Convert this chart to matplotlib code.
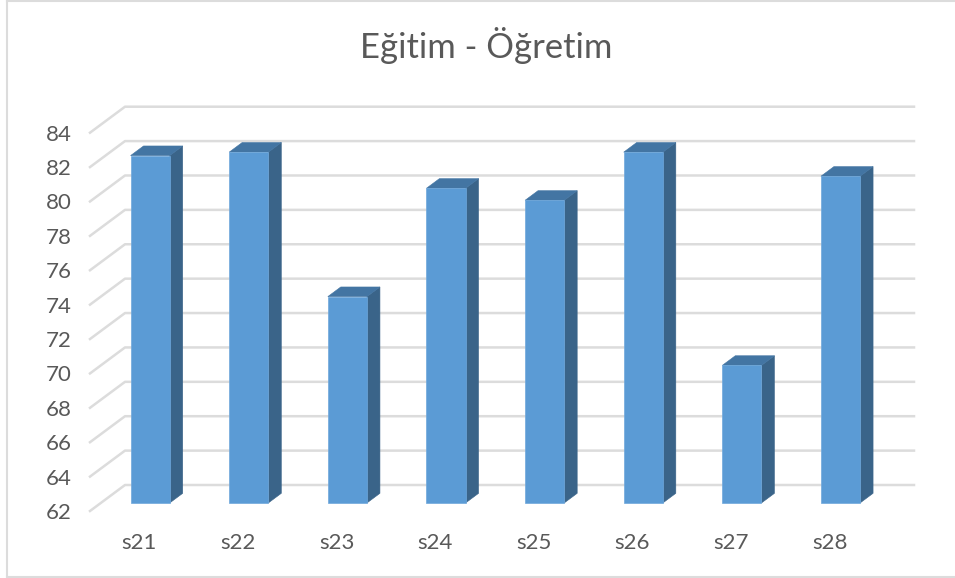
import matplotlib
matplotlib.use("Agg")
import matplotlib.pyplot as plt
from matplotlib.lines import Line2D
from matplotlib.patches import Polygon

categories = ["s21", "s22", "s23", "s24", "s25", "s26", "s27", "s28"]
values = [82.2, 82.4, 74.0, 80.3, 79.6, 82.4, 70.0, 81.0]
y_ticks = list(range(62, 86, 2))
title = "Eğitim - Öğretim"

W, H = 955, 578
plt.rcParams["font.family"] = ["Lato", "DejaVu Sans"]
fig = plt.figure(figsize=(W / 100, H / 100), dpi=100)
ax = fig.add_axes([90 / W, (H - 511) / H, 789 / W, 378.3 / H])
ax.set_xlim(-0.5, 7.5)
ax.set_ylim(62, 84)
for s in ax.spines.values():
    s.set_visible(False)
ax.patch.set_visible(False)

px_x = 789 / 8            # pixels per category
px_y = 378.3 / 22         # pixels per value unit
DX = 35 / px_x            # full depth of the 3D box, data units
DY = 26 / px_y
GRID = "#dcdcdc"
TXT = "#595959"

# walls
for v in y_ticks:
    ax.plot([-0.5, -0.5 + DX, 7.5 + DX], [v, v + DY, v + DY], color=GRID,
            lw=1.8, clip_on=False, zorder=1, solid_joinstyle="round")

# 3D bars
d0, d1 = 0.31, 0.68
bw = 0.397
FRONT, SIDE, TOP = "#5b9bd5", "#3a6489", "#4375a3"
for i, v in enumerate(values):
    xl = i - bw / 2 + d0 * DX
    xr = xl + bw
    base = 62 + d0 * DY
    top = v + d0 * DY
    ox, oy = (d1 - d0) * DX, (d1 - d0) * DY
    ax.bar(xl, v - 62, width=bw, bottom=base, align="edge", color=FRONT,
           edgecolor="#6fa8dc", linewidth=0.5, clip_on=False, zorder=3)
    ax.add_patch(Polygon([(xr, base), (xr + ox, base + oy), (xr + ox, top + oy), (xr, top)],
                         closed=True, facecolor=SIDE, edgecolor=SIDE, lw=0.4,
                         clip_on=False, zorder=2.9))
    ax.add_patch(Polygon([(xl, top), (xl + ox, top + oy), (xr + ox, top + oy), (xr, top)],
                         closed=True, facecolor=TOP, edgecolor=TOP, lw=0.4,
                         clip_on=False, zorder=2.9))

ax.set_xticks(range(len(categories)))
ax.set_xticklabels(categories)
ax.set_yticks(y_ticks)
ax.tick_params(axis="both", length=0, labelsize=16, labelcolor=TXT)
ax.tick_params(axis="y", pad=13.5)
ax.tick_params(axis="x", pad=15.5)

fig.text(486 / W, 1 - 46 / H, title, ha="center", va="center", fontsize=24.9, color=TXT)

# chart frame
for xs, ys in [((7, 7), (1, 577)), ((7, 955), (1, 1)), ((7, 955), (577, 577))]:
    fig.add_artist(Line2D([x / W for x in xs], [1 - y / H for y in ys],
                          color=GRID, lw=1.5, transform=fig.transFigure))

fig.savefig("out.png", dpi=100)
